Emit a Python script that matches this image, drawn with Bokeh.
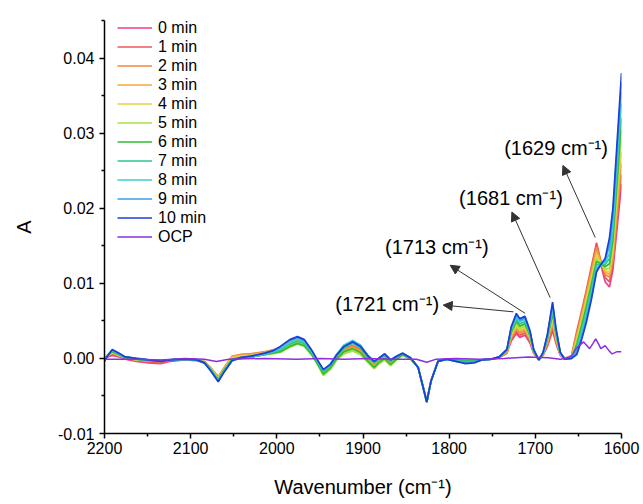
from bokeh.plotting import figure
from bokeh.models import (Range1d, FixedTicker, PrintfTickFormatter, Legend,
                          LegendItem, Arrow, NormalHead)
from bokeh.core.properties import value
from bokeh.embed import file_html
from bokeh.resources import INLINE

FONT = "Liberation Sans"

# ---------------- data ----------------
wavenumber = [2200, 2196, 2191, 2183, 2176, 2163, 2149, 2135, 2124, 2107,
              2093, 2084, 2077, 2068, 2061, 2052, 2042, 2030, 2014, 2005,
              1996, 1985, 1976, 1968, 1960, 1953, 1946, 1938, 1931, 1922,
              1912, 1903, 1894, 1887, 1882, 1875, 1868, 1861, 1854, 1845,
              1836, 1831, 1826, 1821, 1813, 1803, 1792, 1781, 1771, 1762,
              1751, 1742, 1733, 1728, 1722, 1718, 1712, 1706, 1702, 1696,
              1691, 1686, 1680, 1676, 1671,
              1666, 1658, 1652, 1647, 1641, 1635, 1629, 1624, 1619, 1614,
              1610, 1605, 1600]

a_0min = [0.0000, 0.0002, 0.0004, 0.0002, -0.0001, -0.0004, -0.0006, -0.0007, -0.0004, -0.0002,
          -0.0003, -0.0006, -0.0014, -0.0026, -0.0015, 0.0000, 0.0003, 0.0005, 0.0007, 0.0010,
          0.0014, 0.0022, 0.0025, 0.0021, 0.0009, -0.0004, -0.0017, -0.0010, 0.0002, 0.0011,
          0.0016, 0.0011, 0.0000, -0.0008, -0.0003, 0.0003, -0.0005, 0.0001, 0.0005, 0.0000,
          -0.0012, -0.0034, -0.0056, -0.0029, -0.0004, -0.0001, -0.0002, -0.0003, -0.0003, -0.0002,
          -0.0001, 0.0001, 0.0007, 0.0023, 0.0033, 0.0028, 0.0031, 0.0020, 0.0007, -0.0002,
          0.0004, 0.0016, 0.0037, 0.0020, 0.0004,
          -0.0001, 0.0003, 0.0030, 0.0055, 0.0085, 0.0118, 0.0152, 0.0125, 0.0102, 0.0095,
          0.0118, 0.0175, 0.0232]
a_1min = [0.0001, 0.0004, 0.0006, 0.0003, 0.0000, -0.0003, -0.0005, -0.0006, -0.0003, -0.0001,
          -0.0002, -0.0005, -0.0013, -0.0025, -0.0013, 0.0002, 0.0005, 0.0006, 0.0008, 0.0011,
          0.0014, 0.0023, 0.0027, 0.0023, 0.0010, -0.0003, -0.0016, -0.0009, 0.0003, 0.0012,
          0.0017, 0.0012, 0.0001, -0.0007, -0.0002, 0.0004, -0.0004, 0.0002, 0.0005, 0.0000,
          -0.0012, -0.0035, -0.0057, -0.0029, -0.0004, -0.0001, -0.0002, -0.0003, -0.0003, -0.0002,
          -0.0001, 0.0001, 0.0008, 0.0025, 0.0036, 0.0031, 0.0034, 0.0022, 0.0008, -0.0002,
          0.0005, 0.0018, 0.0041, 0.0022, 0.0005,
          0.0000, 0.0004, 0.0036, 0.0060, 0.0090, 0.0122, 0.0154, 0.0130, 0.0108, 0.0102,
          0.0125, 0.0185, 0.0245]
a_2min = [0.0001, 0.0004, 0.0007, 0.0004, 0.0001, -0.0002, -0.0003, -0.0004, -0.0002, -0.0001,
          -0.0002, -0.0004, -0.0012, -0.0024, -0.0012, 0.0003, 0.0005, 0.0006, 0.0009, 0.0011,
          0.0013, 0.0023, 0.0027, 0.0023, 0.0010, -0.0003, -0.0016, -0.0009, 0.0003, 0.0012,
          0.0016, 0.0011, 0.0000, -0.0008, -0.0003, 0.0003, -0.0005, 0.0001, 0.0005, 0.0000,
          -0.0012, -0.0035, -0.0058, -0.0030, -0.0004, -0.0001, -0.0002, -0.0003, -0.0003, -0.0002,
          -0.0001, 0.0001, 0.0008, 0.0027, 0.0039, 0.0034, 0.0037, 0.0024, 0.0008, -0.0002,
          0.0005, 0.0020, 0.0045, 0.0024, 0.0005,
          0.0000, 0.0003, 0.0032, 0.0056, 0.0086, 0.0117, 0.0148, 0.0130, 0.0112, 0.0108,
          0.0132, 0.0195, 0.0260]
a_3min = [0.0000, 0.0004, 0.0007, 0.0004, 0.0001, -0.0002, -0.0003, -0.0004, -0.0002, -0.0001,
          -0.0002, -0.0005, -0.0013, -0.0025, -0.0013, 0.0002, 0.0004, 0.0005, 0.0008, 0.0010,
          0.0012, 0.0021, 0.0025, 0.0021, 0.0009, -0.0004, -0.0018, -0.0011, 0.0001, 0.0010,
          0.0014, 0.0009, -0.0002, -0.0010, -0.0005, 0.0001, -0.0007, 0.0000, 0.0004, 0.0000,
          -0.0012, -0.0035, -0.0058, -0.0030, -0.0004, -0.0001, -0.0002, -0.0003, -0.0003, -0.0002,
          -0.0001, 0.0001, 0.0009, 0.0029, 0.0042, 0.0036, 0.0039, 0.0026, 0.0009, -0.0002,
          0.0006, 0.0022, 0.0049, 0.0026, 0.0006,
          0.0000, 0.0002, 0.0028, 0.0052, 0.0081, 0.0112, 0.0143, 0.0128, 0.0115, 0.0112,
          0.0138, 0.0205, 0.0275]
a_4min = [0.0000, 0.0004, 0.0008, 0.0004, 0.0001, -0.0002, -0.0003, -0.0004, -0.0002, -0.0001,
          -0.0002, -0.0005, -0.0013, -0.0026, -0.0014, 0.0001, 0.0003, 0.0004, 0.0006, 0.0008,
          0.0010, 0.0018, 0.0022, 0.0019, 0.0007, -0.0006, -0.0020, -0.0013, -0.0001, 0.0008,
          0.0012, 0.0007, -0.0004, -0.0012, -0.0006, -0.0001, -0.0008, -0.0001, 0.0004, 0.0000,
          -0.0012, -0.0035, -0.0058, -0.0030, -0.0004, -0.0001, -0.0002, -0.0003, -0.0003, -0.0002,
          -0.0001, 0.0001, 0.0009, 0.0031, 0.0044, 0.0038, 0.0041, 0.0027, 0.0009, -0.0002,
          0.0006, 0.0024, 0.0053, 0.0028, 0.0006,
          0.0000, 0.0002, 0.0025, 0.0048, 0.0077, 0.0107, 0.0138, 0.0127, 0.0117, 0.0115,
          0.0143, 0.0215, 0.0290]
a_5min = [0.0000, 0.0004, 0.0008, 0.0004, 0.0001, -0.0002, -0.0003, -0.0004, -0.0002, -0.0001,
          -0.0002, -0.0005, -0.0014, -0.0027, -0.0015, -0.0001, 0.0001, 0.0002, 0.0005, 0.0006,
          0.0008, 0.0015, 0.0019, 0.0016, 0.0005, -0.0008, -0.0023, -0.0015, -0.0003, 0.0006,
          0.0010, 0.0005, -0.0006, -0.0014, -0.0008, -0.0002, -0.0010, -0.0002, 0.0004, 0.0000,
          -0.0012, -0.0035, -0.0058, -0.0030, -0.0004, -0.0001, -0.0002, -0.0003, -0.0003, -0.0002,
          -0.0001, 0.0001, 0.0010, 0.0033, 0.0046, 0.0040, 0.0043, 0.0028, 0.0010, -0.0002,
          0.0006, 0.0025, 0.0057, 0.0030, 0.0006,
          0.0000, 0.0001, 0.0022, 0.0044, 0.0072, 0.0102, 0.0133, 0.0126, 0.0119, 0.0120,
          0.0150, 0.0225, 0.0305]
a_6min = [0.0000, 0.0005, 0.0009, 0.0005, 0.0001, -0.0001, -0.0003, -0.0004, -0.0002, -0.0001,
          -0.0002, -0.0005, -0.0014, -0.0028, -0.0015, -0.0001, 0.0001, 0.0002, 0.0005, 0.0007,
          0.0009, 0.0016, 0.0020, 0.0017, 0.0006, -0.0007, -0.0021, -0.0013, -0.0001, 0.0009,
          0.0013, 0.0008, -0.0004, -0.0012, -0.0006, 0.0000, -0.0008, -0.0001, 0.0005, 0.0000,
          -0.0012, -0.0035, -0.0058, -0.0030, -0.0004, -0.0001, -0.0002, -0.0003, -0.0003, -0.0002,
          -0.0001, 0.0001, 0.0010, 0.0035, 0.0049, 0.0043, 0.0046, 0.0030, 0.0010, -0.0002,
          0.0006, 0.0026, 0.0060, 0.0032, 0.0007,
          0.0000, 0.0001, 0.0018, 0.0040, 0.0068, 0.0098, 0.0129, 0.0126, 0.0122, 0.0126,
          0.0158, 0.0238, 0.0320]
a_7min = [-0.0001, 0.0005, 0.0010, 0.0006, 0.0002, -0.0001, -0.0002, -0.0003, -0.0002, -0.0001,
          -0.0002, -0.0006, -0.0015, -0.0029, -0.0016, -0.0002, 0.0000, 0.0002, 0.0005, 0.0008,
          0.0011, 0.0019, 0.0023, 0.0020, 0.0008, -0.0005, -0.0018, -0.0010, 0.0002, 0.0014,
          0.0020, 0.0014, 0.0001, -0.0006, -0.0002, 0.0004, -0.0004, 0.0002, 0.0006, 0.0000,
          -0.0012, -0.0035, -0.0058, -0.0030, -0.0004, -0.0001, -0.0003, -0.0004, -0.0004, -0.0002,
          -0.0001, 0.0001, 0.0011, 0.0037, 0.0052, 0.0046, 0.0049, 0.0032, 0.0011, -0.0002,
          0.0007, 0.0028, 0.0064, 0.0034, 0.0007,
          0.0000, 0.0000, 0.0014, 0.0035, 0.0062, 0.0092, 0.0125, 0.0126, 0.0125, 0.0133,
          0.0168, 0.0252, 0.0340]
a_8min = [-0.0002, 0.0005, 0.0011, 0.0006, 0.0002, 0.0000, -0.0002, -0.0003, -0.0002, -0.0001,
          -0.0002, -0.0006, -0.0015, -0.0030, -0.0017, -0.0003, 0.0000, 0.0002, 0.0006, 0.0009,
          0.0013, 0.0022, 0.0026, 0.0022, 0.0010, -0.0003, -0.0016, -0.0008, 0.0005, 0.0018,
          0.0024, 0.0018, 0.0004, -0.0004, 0.0000, 0.0006, -0.0002, 0.0003, 0.0007, 0.0001,
          -0.0012, -0.0035, -0.0058, -0.0030, -0.0004, -0.0001, -0.0004, -0.0006, -0.0005, -0.0002,
          -0.0001, 0.0002, 0.0011, 0.0039, 0.0055, 0.0049, 0.0052, 0.0034, 0.0011, -0.0002,
          0.0007, 0.0030, 0.0068, 0.0036, 0.0007,
          0.0000, 0.0000, 0.0011, 0.0030, 0.0057, 0.0087, 0.0121, 0.0126, 0.0128, 0.0140,
          0.0178, 0.0265, 0.0355]
a_9min = [-0.0003, 0.0004, 0.0011, 0.0006, 0.0002, 0.0000, -0.0002, -0.0003, -0.0002, -0.0001,
          -0.0002, -0.0006, -0.0016, -0.0030, -0.0017, -0.0003, 0.0001, 0.0003, 0.0007, 0.0010,
          0.0015, 0.0024, 0.0028, 0.0024, 0.0011, -0.0002, -0.0015, -0.0008, 0.0004, 0.0016,
          0.0023, 0.0017, 0.0003, -0.0004, 0.0000, 0.0006, -0.0002, 0.0003, 0.0007, 0.0001,
          -0.0012, -0.0035, -0.0058, -0.0030, -0.0004, -0.0001, -0.0004, -0.0006, -0.0005, -0.0002,
          -0.0001, 0.0002, 0.0012, 0.0041, 0.0058, 0.0051, 0.0054, 0.0035, 0.0012, -0.0002,
          0.0008, 0.0031, 0.0072, 0.0038, 0.0008,
          -0.0001, 0.0000, 0.0008, 0.0026, 0.0052, 0.0082, 0.0118, 0.0125, 0.0131, 0.0150,
          0.0190, 0.0278, 0.0368]
a_10min = [-0.0004, 0.0004, 0.0012, 0.0007, 0.0002, 0.0000, -0.0002, -0.0004, -0.0002, -0.0001,
           -0.0002, -0.0006, -0.0016, -0.0031, -0.0018, -0.0003, 0.0001, 0.0003, 0.0007, 0.0010,
           0.0016, 0.0025, 0.0029, 0.0025, 0.0012, -0.0002, -0.0015, -0.0008, 0.0004, 0.0016,
           0.0022, 0.0016, 0.0003, -0.0004, 0.0000, 0.0006, -0.0002, 0.0003, 0.0007, 0.0001,
           -0.0012, -0.0035, -0.0058, -0.0030, -0.0004, -0.0001, -0.0004, -0.0007, -0.0006, -0.0002,
           -0.0001, 0.0002, 0.0012, 0.0042, 0.0060, 0.0053, 0.0056, 0.0036, 0.0012, -0.0002,
           0.0008, 0.0032, 0.0075, 0.0040, 0.0008,
           -0.0001, 0.0000, 0.0005, 0.0022, 0.0047, 0.0078, 0.0115, 0.0125, 0.0133, 0.0160,
           0.0200, 0.0290, 0.0380]

ocp_wavenumber = [2200, 2163, 2135, 2107, 2084, 2070, 2056, 2014, 1977, 1949,
                  1922, 1894, 1866, 1838, 1826, 1815, 1792, 1764, 1736, 1708,
                  1685, 1671, 1665, 1658, 1652, 1648, 1644, 1640, 1637, 1633,
                  1630, 1627, 1624, 1619, 1615, 1611, 1605, 1600]
a_ocp = [-0.0001, -0.0001, -0.0002, 0.0000, -0.0001, -0.0004, -0.0001, 0.0000, -0.0001, 0.0000,
         -0.0001, 0.0000, -0.0001, -0.0001, -0.0005, -0.0001, 0.0000, -0.0001, 0.0000, 0.0002,
         0.0001, -0.0001, 0.0000, 0.0003, 0.0014, 0.0018, 0.0022, 0.0017, 0.0013, 0.0020,
         0.0026, 0.0020, 0.0013, 0.0017, 0.0011, 0.0006, 0.0009, 0.0009]

series_labels = ["0 min", "1 min", "2 min", "3 min", "4 min", "5 min",
                 "6 min", "7 min", "8 min", "9 min", "10 min"]
series_values = [a_0min, a_1min, a_2min, a_3min, a_4min, a_5min,
                 a_6min, a_7min, a_8min, a_9min, a_10min]
series_colors = ["#EE3D8B", "#F0575A", "#F18A3B", "#F2AA3A", "#E5D43E", "#A8E043",
                 "#2DBE33", "#30C592", "#3DCFD3", "#3D9EE6", "#1E3FD5"]
ocp_label = "OCP"
ocp_color = "#8B2FE0"

x_ticks = [2200, 2100, 2000, 1900, 1800, 1700, 1600]
x_minor = [2150, 2050, 1950, 1850, 1750, 1650]
y_ticks = [-0.01, 0.0, 0.01, 0.02, 0.03, 0.04]
y_minor = [-0.005, 0.005, 0.015, 0.025, 0.035, 0.045]

peak_labels = ["(1721 cm\u207b\u00b9)", "(1713 cm\u207b\u00b9)", "(1681 cm\u207b\u00b9)", "(1629 cm\u207b\u00b9)"]
label_x = [1871.9, 1814.3, 1728.3, 1676.0]
label_y = [0.0072, 0.0148, 0.0213, 0.0280]
arrow_from_x = [1725.4, 1711.8, 1682.8, 1630.5]
arrow_from_y = [0.0062, 0.0060, 0.0081, 0.0161]
arrow_to_x = [1806.9, 1798.8, 1727.2, 1668.0]
arrow_to_y = [0.0071, 0.0124, 0.0195, 0.0257]

# ---------------- figure ----------------
p = figure(width=643, height=504,
           x_range=Range1d(2200, 1600), y_range=Range1d(-0.01, 0.045),
           output_backend="svg", toolbar_location=None,
           min_border_left=104, min_border_right=22,
           min_border_top=20, min_border_bottom=71)
p.grid.visible = False
p.outline_line_color = None
p.background_fill_color = "white"
p.border_fill_color = "white"

items = []
for lab, vals, col in zip(series_labels, series_values, series_colors):
    r = p.line(wavenumber, vals, line_color=col, line_width=1.7)
    items.append(LegendItem(label=lab, renderers=[r]))
r = p.line(ocp_wavenumber, a_ocp, line_color=ocp_color, line_width=1.5)
items.append(LegendItem(label=ocp_label, renderers=[r]))

legend = Legend(items=items, location=(13, 187),
                border_line_color=None, background_fill_alpha=0,
                padding=0, margin=0, spacing=0,
                glyph_width=35, glyph_height=19, label_height=19,
                label_standoff=6, label_text_font=FONT,
                label_text_font_size="16px", label_text_color="black")
p.add_layout(legend, "center")

# annotations
p.text(x=label_x, y=label_y, text=peak_labels, text_font=value(FONT),
       text_font_size="20px", text_align="center", text_baseline="middle",
       text_color="black")
for x0, y0, x1, y1 in zip(arrow_from_x, arrow_from_y, arrow_to_x, arrow_to_y):
    p.add_layout(Arrow(end=NormalHead(size=9, fill_color="#333333", line_color="#333333",
                                      line_width=1),
                       x_start=x0, y_start=y0, x_end=x1, y_end=y1,
                       line_color="#333333", line_width=1))

# axes
xa = p.xaxis[0]
xa.ticker = FixedTicker(ticks=x_ticks, minor_ticks=x_minor)
xa.axis_label = "Wavenumber (cm\u207b\u00b9)"
ya = p.yaxis[0]
ya.ticker = FixedTicker(ticks=y_ticks, minor_ticks=y_minor)
ya.formatter = PrintfTickFormatter(format="%.2f")
ya.axis_label = "A"

for ax in (xa, ya):
    ax.axis_line_color = "black"
    ax.axis_line_width = 1.5
    ax.major_tick_line_color = "black"
    ax.major_tick_line_width = 1.5
    ax.minor_tick_line_color = "black"
    ax.minor_tick_line_width = 1.5
    ax.major_tick_in = 0
    ax.major_tick_out = 5
    ax.minor_tick_in = 0
    ax.minor_tick_out = 3
    ax.major_label_text_font = FONT
    ax.major_label_text_font_size = "16px"
    ax.major_label_text_color = "black"
    ax.axis_label_text_font = FONT
    ax.axis_label_text_font_size = "20px"
    ax.axis_label_text_font_style = "normal"
    ax.axis_label_text_color = "black"
xa.major_label_standoff = 3
xa.axis_label_standoff = 19
ya.major_label_standoff = 5
ya.axis_label_standoff = 20

open("out.html", "w").write(file_html(p, INLINE))
